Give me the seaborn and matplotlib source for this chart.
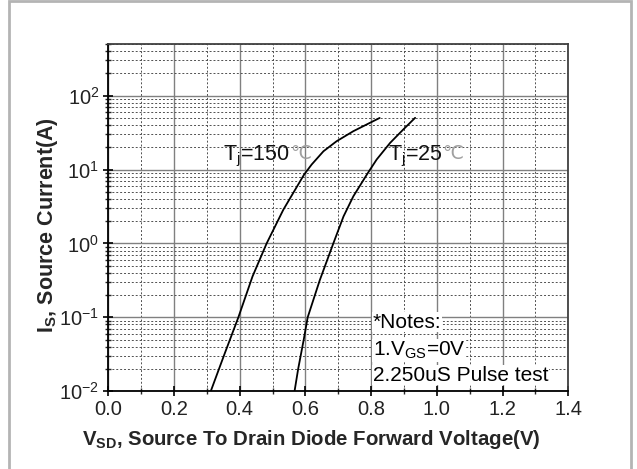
import matplotlib
matplotlib.use("Agg")
import matplotlib.pyplot as plt
import seaborn as sns
import pandas as pd
from matplotlib.ticker import LogLocator, MultipleLocator, NullFormatter
from matplotlib.patches import Rectangle

# ---- data ----
vsd_150 = [0.312, 0.354, 0.396, 0.439, 0.482, 0.533, 0.563, 0.596, 0.619, 0.655, 0.695, 0.746, 0.826]
is_150 = [0.01, 0.032, 0.1, 0.357, 1.0, 2.87, 4.83, 8.55, 11.7, 17.7, 24.2, 33.1, 50.0]
vsd_25 = [0.567, 0.578, 0.595, 0.607, 0.629, 0.644, 0.685, 0.716, 0.746, 0.787, 0.817, 0.858, 0.898, 0.934]
is_25 = [0.01, 0.02, 0.05, 0.1, 0.2, 0.32, 1.0, 2.32, 4.35, 8.55, 13.7, 23.0, 34.9, 50.2]
x_ticks = [0.0, 0.2, 0.4, 0.6, 0.8, 1.0, 1.2, 1.4]
note_lines = ["*Notes:", "1.V$_{\\mathregular{GS}}$=0V", "2.250uS Pulse test"]

df = pd.concat([
    pd.DataFrame({"Vsd": vsd_150, "Is": is_150, "Tj": "150"}),
    pd.DataFrame({"Vsd": vsd_25, "Is": is_25, "Tj": "25"}),
])

sns.set_theme(style="white")
plt.rcParams['font.family'] = ['Liberation Sans', 'DejaVu Sans']
plt.rcParams['mathtext.fontset'] = 'custom'
plt.rcParams['mathtext.rm'] = 'Liberation Sans'
plt.rcParams['mathtext.bf'] = 'Liberation Sans:bold'
plt.rcParams['mathtext.it'] = 'Liberation Sans:italic'
plt.rcParams['axes.unicode_minus'] = False

fig = plt.figure(figsize=(6.37, 4.69), dpi=100)
ax = fig.add_axes([0.170, 0.166, 0.722, 0.740])

sns.lineplot(data=df, x="Vsd", y="Is", units="Tj", estimator=None, sort=False,
             color="black", linewidth=1.3, ax=ax, legend=False)

ax.set_yscale("log")
ax.set_xlim(0, 1.4)
ax.set_ylim(0.01, 500)
ax.set_xticks(x_ticks)
ax.set_xticklabels([f"{v:.1f}" for v in x_ticks])
ax.xaxis.set_minor_locator(MultipleLocator(0.1))
ax.yaxis.set_major_locator(LogLocator(base=10, numticks=10))
ax.yaxis.set_minor_locator(LogLocator(base=10, subs=range(2, 10), numticks=20))
ax.yaxis.set_minor_formatter(NullFormatter())

ax.grid(True, which="major", color="#808080", linestyle="-", linewidth=1.0)
ax.grid(True, which="minor", color="#505050", linestyle=(0, (2, 2)), linewidth=0.7)
ax.set_axisbelow(True)

for s in ax.spines.values():
    s.set_color("black")
    s.set_linewidth(1.3)
ax.spines['top'].set_color("#404040")
ax.spines['right'].set_color("#404040")

ax.tick_params(axis="both", which="major", direction="inout", length=7, width=1.2,
               labelsize=14.5, colors="black", pad=3, bottom=True, left=True)
ax.tick_params(axis="both", which="minor", direction="inout", length=4, width=1.0,
               bottom=True, left=True)
for lab in ax.get_xticklabels() + ax.get_yticklabels():
    lab.set_color("#222222")

ax.set_xlabel("V$_{\\mathbf{SD}}$, Source To Drain Diode Forward Voltage(V)",
              fontsize=14.7, fontweight="bold", va="center", ha="center")
ax.xaxis.set_label_coords(0.4407, -0.138)
ax.set_ylabel("I$_{\\mathbf{S}}$, Source Current(A)", fontsize=15.5,
              fontweight="bold", va="center", ha="center")
ax.yaxis.set_label_coords(-0.133, 0.478)

t1 = ax.text(0.350, 15.0, "T$_{\\mathregular{j}}$=150", fontsize=15.5, color="#111111",
             ha="left", va="center")
ax.annotate("\u2103", xy=(1.0, 0.5), xycoords=t1, xytext=(0, 2.5), textcoords="offset points",
            fontsize=13.5, color="#a0a0a0", ha="left", va="center", family=["DejaVu Sans"])
t2 = ax.text(0.850, 15.0, "T$_{\\mathregular{j}}$=25", fontsize=15.5, color="#111111",
             ha="left", va="center")
ax.annotate("\u2103", xy=(1.0, 0.5), xycoords=t2, xytext=(0, 2.5), textcoords="offset points",
            fontsize=13.5, color="#a0a0a0", ha="left", va="center", family=["DejaVu Sans"])

note_y = [0.086, 0.036, 0.0165]
for txt, yy in zip(note_lines, note_y):
    ax.text(0.805, yy, txt, fontsize=15, color="black", ha="left", va="center",
            bbox=dict(facecolor="white", edgecolor="none", pad=0.6))

fig.patches.append(Rectangle((8.5 / 637, -0.01), (630.5 - 8.5) / 637, 1.0 - 1.5 / 469 + 0.01,
                             transform=fig.transFigure, fill=False,
                             edgecolor="#b4b4b4", linewidth=2.0))

fig.savefig("out.png", dpi=100)
